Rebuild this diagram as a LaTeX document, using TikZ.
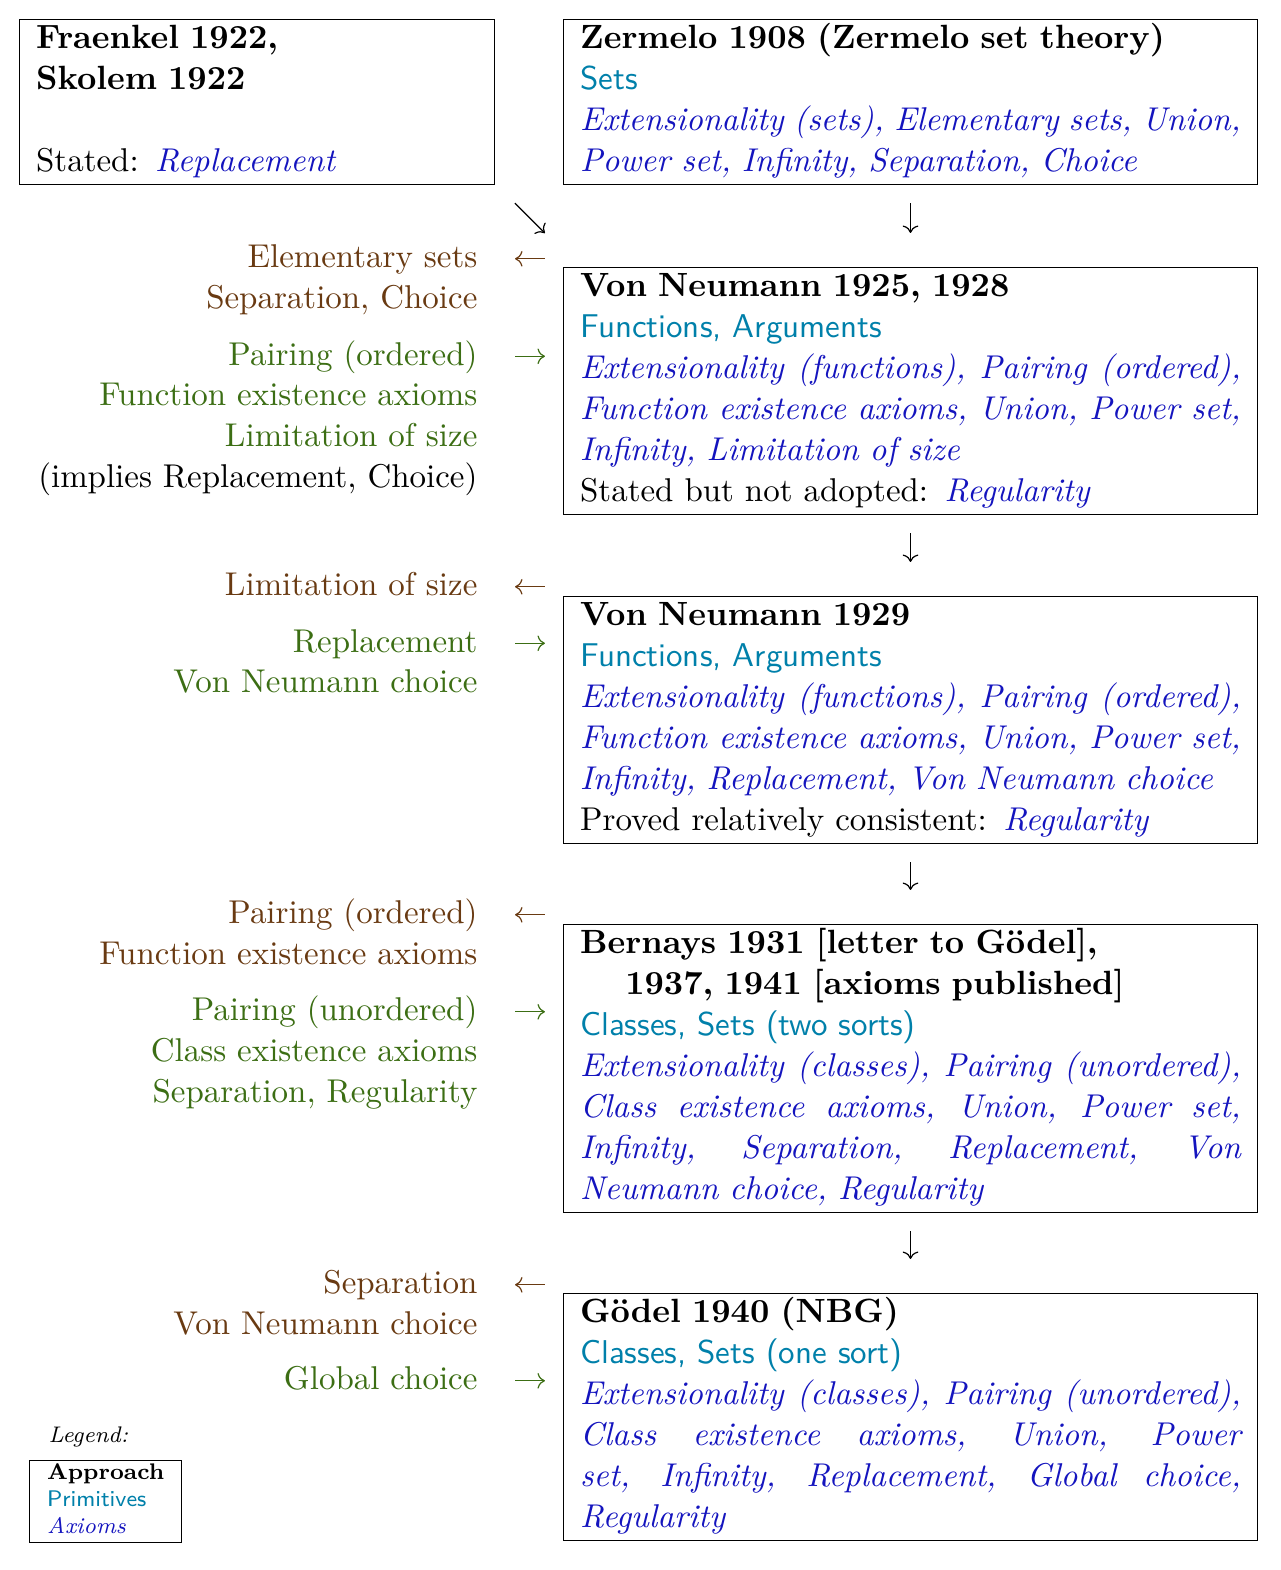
\documentclass[tikz,border=0pt]{standalone}
\usepackage{graphicx}
\usetikzlibrary{arrows.meta}
\definecolor{prim}{RGB}{0,128,170}
\definecolor{axc}{RGB}{20,20,190}
\definecolor{brn}{RGB}{105,58,18}
\definecolor{grn}{RGB}{60,110,20}
\newlength\boxtw
\setlength\boxtw{219.5pt}
\newcommand\pr[1]{{\sffamily\color{prim}#1}}
\newcommand\axm[1]{{\itshape\color{axc}#1}}
\newcommand\jl[1]{\leavevmode\hbox to \boxtw{\spaceskip=0pt\xspaceskip=0pt #1}}
\newcommand\hd[1]{\scalebox{1.02}{\bfseries #1}}
\tikzset{
  box/.style={draw, line width=0.4pt, anchor=north west, inner xsep=5.5pt, inner ysep=0.2pt,
    text width=\boxtw, align=left, font=\fontsize{10.95}{13.6}\selectfont},
  grp/.style={anchor=north east, inner sep=0pt, align=right, font=\fontsize{10.95}{13.6}\selectfont},
  arr/.style={-{To}, line width=0.4pt},
  larr/.style={arr, shorten <=6pt, shorten >=12.3pt},
  rarr/.style={arr, shorten <=12.3pt, shorten >=6pt},
  darr/.style={arr, shorten <=6pt, shorten >=11.3pt},
}
\begin{document}
\begin{tikzpicture}[x=0.33223pt, y=-0.33223pt]
\useasboundingbox (0,0) rectangle (1280,1570);

% main boxes
\node[box, text width=146.7pt] (fr) at (19,19) {\strut\hd{Fraenkel 1922,}\\ \hd{Skolem 1922}\\ \mbox{}\\ Stated: \axm{Replacement}\strut};

\node[box] (zer) at (563,19) {\strut\hd{Zermelo 1908 (Zermelo set theory)}\\
  \pr{Sets}\\
  \jl{\axm{Extensionality (sets), Elementary sets, Union,}}\\
  \axm{Power set, Infinity, Separation, Choice}\strut};

\node[box] (vn1) at (563,267) {\strut\hd{Von Neumann 1925, 1928}\\
  \pr{Functions, Arguments}\\
  \jl{\axm{Extensionality (functions), Pairing (ordered),}}\\
  \jl{\axm{Function existence axioms, Union, Power set,}}\\
  \axm{Infinity, Limitation of size}\\
  Stated but not adopted: \axm{Regularity}\strut};

\node[box] (vn2) at (563,596) {\strut\hd{Von Neumann 1929}\\
  \pr{Functions, Arguments}\\
  \jl{\axm{Extensionality (functions), Pairing (ordered),}}\\
  \jl{\axm{Function existence axioms, Union, Power set,}}\\
  \axm{Infinity, Replacement, Von Neumann choice}\\
  Proved relatively consistent: \axm{Regularity}\strut};

\node[box] (bern) at (563,924) {\strut\hd{Bernays 1931 [letter to Gödel],}\\
  \hspace*{15pt}\hd{1937, 1941 [axioms published]}\\
  \pr{Classes, Sets (two sorts)}\\
  \jl{\axm{Extensionality (classes), Pairing (unordered),}}\\
  \jl{\axm{Class existence axioms, Union, Power set,}}\\
  \jl{\axm{Infinity, Separation, Replacement, Von}}\\
  \axm{Neumann choice, Regularity}\strut};

\node[box] (god) at (563,1293) {\strut\hd{Gödel 1940 (NBG)}\\
  \pr{Classes, Sets (one sort)}\\
  \jl{\axm{Extensionality (classes), Pairing (unordered),}}\\
  \jl{\axm{Class existence axioms, Union, Power}}\\
  \jl{\axm{set, Infinity, Replacement, Global choice,}}\\
  \axm{Regularity}\strut};

% side groups
\node[grp, text=brn] (g1) at (478,238.3) {\strut Elementary sets\\ Separation, Choice};
\node[grp, text=grn] (g2) at (478,335.8) {\strut Pairing (ordered)\\ Function existence axioms\\ Limitation of size\\ \textcolor{black}{(implies Replacement, Choice)}};
\node[grp, text=brn] (g3) at (478,566.3) {\strut Limitation of size};
\node[grp, text=grn] (g4) at (478,622.8) {\strut Replacement\\ Von Neumann choice};
\node[grp, text=brn] (g5) at (478,894.3) {\strut Pairing (ordered)\\ Function existence axioms};
\node[grp, text=grn] (g6) at (478,991.3) {\strut Pairing (unordered)\\ Class existence axioms\\ Separation, Regularity};
\node[grp, text=brn] (g7) at (478,1264.3) {\strut Separation\\ Von Neumann choice};
\node[grp, text=grn] (g8) at (478,1360.3) {\strut Global choice};

\foreach \i in {1,...,8} { \coordinate (t\i) at ([yshift=-6.8pt]g\i.north east); }

% vertical arrows
\draw[darr] (zer) -- (vn1);
\draw[darr] (vn1) -- (vn2);
\draw[darr] (vn2) -- (bern);
\draw[darr] (bern) -- (god);
\draw[arr] ([shift={(20,18)}]fr.south east) -- ++(30,30);

% side arrows
\draw[larr, brn] (vn1.west |- t1) -- (t1);
\draw[rarr, grn] (t2) -- (vn1.west |- t2);
\draw[larr, brn] (vn2.west |- t3) -- (t3);
\draw[rarr, grn] (t4) -- (vn2.west |- t4);
\draw[larr, brn] (bern.west |- t5) -- (t5);
\draw[rarr, grn] (t6) -- (bern.west |- t6);
\draw[larr, brn] (god.west |- t7) -- (t7);
\draw[rarr, grn] (t8) -- (god.west |- t8);

% legend
\node[anchor=base west, inner sep=0pt, font=\fontsize{7.5}{8.9}\selectfont\itshape] (leg) at (48,1442) {Legend:};
\node[draw, line width=0.4pt, anchor=north west, inner xsep=5.8pt, inner ysep=0.2pt, align=left,
  font=\fontsize{7.5}{8.9}\selectfont] (legbox) at (29,1460) {\strut\textbf{Approach}\\ \pr{Primitives}\\ \axm{Axioms}\strut};
\end{tikzpicture}
\end{document}
